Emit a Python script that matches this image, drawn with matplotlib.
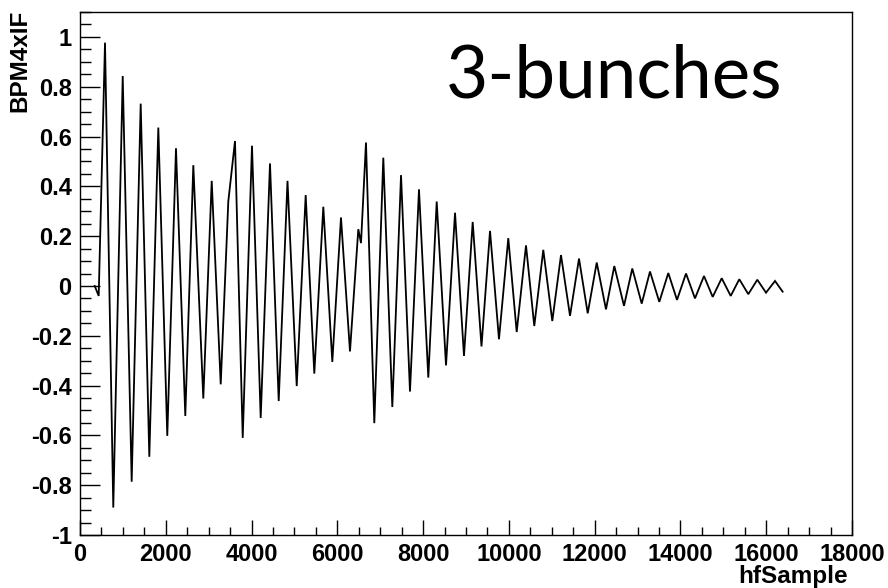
import matplotlib.pyplot as plt
from matplotlib.ticker import MultipleLocator, FuncFormatter

plt.rcParams["axes.unicode_minus"] = False

# turning points of the BPM4 IF waveform (sample index, amplitude)
hf_sample = [343, 436, 583, 776, 996, 1205, 1415, 1616, 1826, 2035,
             2238, 2455, 2642, 2875, 3071, 3281, 3458, 3614, 3794, 4010,
             4213, 4430, 4633, 4838, 5053, 5262, 5463, 5673, 5883, 6085,
             6295, 6489, 6552, 6668, 6862, 7072, 7282, 7485, 7694, 7904,
             8121, 8317, 8534, 8744, 8953, 9156, 9361, 9560, 9769, 9986,
             10182, 10399, 10592, 10802, 11012, 11215, 11425, 11635, 11838, 12048,
             12264, 12458, 12684, 12877, 13097, 13290, 13507, 13717, 13920, 14130,
             14339, 14549, 14752, 14962, 15172, 15372, 15582, 15792, 15995, 16205,
             16383]
bpm4xif = [0.0, -0.04, 0.977, -0.89, 0.843, -0.786, 0.732, -0.686, 0.636, -0.602,
           0.553, -0.522, 0.485, -0.452, 0.422, -0.395, 0.34, 0.582, -0.61, 0.563,
           -0.53, 0.492, -0.462, 0.422, -0.402, 0.365, -0.352, 0.318, -0.305, 0.275,
           -0.263, 0.228, 0.172, 0.576, -0.551, 0.515, -0.486, 0.445, -0.424, 0.388,
           -0.368, 0.339, -0.319, 0.294, -0.281, 0.257, -0.243, 0.221, -0.214, 0.192,
           -0.185, 0.163, -0.161, 0.145, -0.141, 0.124, -0.12, 0.11, -0.11, 0.094,
           -0.094, 0.08, -0.08, 0.07, -0.071, 0.058, -0.064, 0.052, -0.056, 0.05,
           -0.05, 0.04, -0.044, 0.031, -0.04, 0.027, -0.033, 0.025, -0.027, 0.02,
           -0.023]

lab_font = ["Liberation Sans", "DejaVu Sans"]

fig = plt.figure(figsize=(8.88, 5.88), dpi=100)
ax = fig.add_axes([80 / 888, 1 - 535 / 588, 772 / 888, 523 / 588])

ax.plot(hf_sample, bpm4xif, color="black", lw=1.3, solid_joinstyle="miter")

ax.set_xlim(0, 18000)
ax.set_ylim(-1, 1.1)

ax.xaxis.set_major_locator(MultipleLocator(2000))
ax.xaxis.set_minor_locator(MultipleLocator(500))
ax.yaxis.set_major_locator(MultipleLocator(0.2))
ax.yaxis.set_minor_locator(MultipleLocator(0.05))
ax.yaxis.set_major_formatter(FuncFormatter(lambda v, p: "%g" % round(v, 2)))
ax.xaxis.set_major_formatter(FuncFormatter(lambda v, p: "%d" % v))

ax.tick_params(axis="both", which="both", direction="in", top=False, right=False,
               width=1.0, labelsize=17)
ax.tick_params(axis="y", which="major", length=14.5, pad=6)
ax.tick_params(axis="y", which="minor", length=8)
ax.tick_params(axis="x", which="major", length=11, pad=6)
ax.tick_params(axis="x", which="minor", length=6)
for lab in ax.get_xticklabels() + ax.get_yticklabels():
    lab.set_fontfamily(lab_font)
    lab.set_fontweight("bold")

for sp in ax.spines.values():
    sp.set_linewidth(1.0)

fig.text(20 / 888, 1 - 10 / 588, "BPM4xIF", rotation=90, ha="center", va="top",
         fontsize=17.5, fontweight="bold", family=lab_font)
fig.text(848 / 888, 1 - 565 / 588, "hfSample", ha="right", va="top",
         fontsize=17.5, fontweight="bold", family=lab_font)

fig.text(446 / 888, 1 - 97 / 588, "3-bunches", ha="left", va="baseline",
         fontsize=52.5, family=["Lato", "DejaVu Sans"])

fig.savefig("out.png", dpi=100)
